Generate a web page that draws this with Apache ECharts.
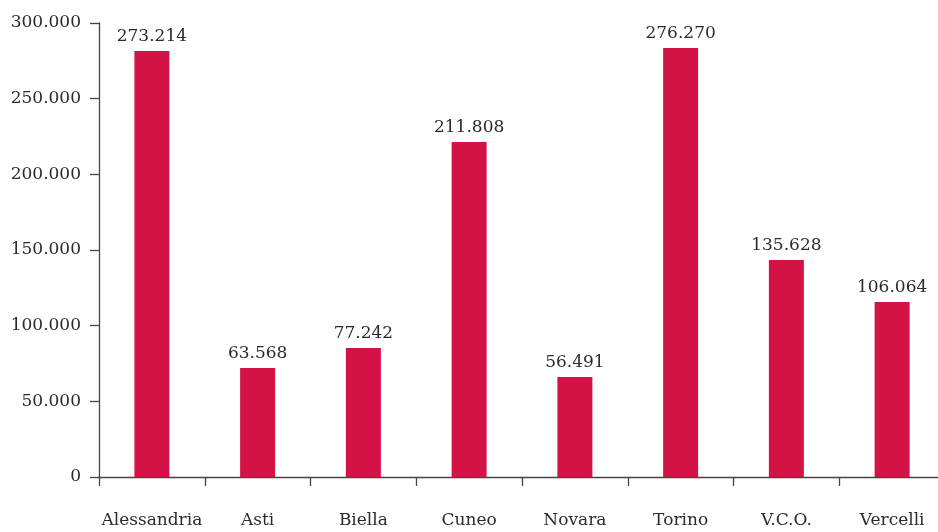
<!DOCTYPE html>
<html>
<head>
<meta charset="utf-8">
<script src="https://cdn.jsdelivr.net/npm/echarts@6/dist/echarts.min.js"></script>
<style>
html,body{margin:0;padding:0;background:#fff;overflow:hidden;}
#chart{width:938px;height:532px;}
</style>
</head>
<body>
<div id="chart"></div>
<script>
var categories = ["Alessandria", "Asti", "Biella", "Cuneo", "Novara", "Torino", "V.C.O.", "Vercelli"];
// bar heights as drawn in the reference
var barValues = [281500, 72000, 85200, 221400, 66100, 283500, 143400, 115600];
// printed value labels
var labelValues = ["273.214", "63.568", "77.242", "211.808", "56.491", "276.270", "135.628", "106.064"];
var yTicks = [0, 50000, 100000, 150000, 200000, 250000, 300000];

function fmtThousands(v) {
  return String(v).replace(/\B(?=(\d{3})+(?!\d))/g, ".");
}

var chart = echarts.init(document.getElementById('chart'), null, {renderer: 'canvas'});
var textColor = '#2b2b2b';
var fontFam = '"DejaVu Serif", "Liberation Serif", serif';
chart.setOption({
  animation: false,
  backgroundColor: '#ffffff',
  grid: {left: 99, right: -7, top: 23, bottom: 55, containLabel: false, outerBoundsMode: 'none'},
  xAxis: {
    type: 'category',
    data: categories,
    axisLine: {show: true, lineStyle: {color: '#444', width: 1.3}},
    axisTick: {show: true, length: 9, lineStyle: {color: '#444', width: 1.3}},
    axisLabel: {color: textColor, fontFamily: fontFam, fontSize: 17, margin: 35, interval: 0}
  },
  yAxis: {
    type: 'value',
    min: yTicks[0],
    max: yTicks[yTicks.length - 1],
    interval: yTicks[1] - yTicks[0],
    axisLine: {show: true, lineStyle: {color: '#444', width: 1.3}},
    axisTick: {show: true, length: 9, lineStyle: {color: '#444', width: 1.3}},
    splitLine: {show: false},
    axisLabel: {color: textColor, fontFamily: fontFam, fontSize: 17, margin: 18,
      formatter: function (v) { return fmtThousands(v); }}
  },
  series: [{
    type: 'bar',
    data: barValues,
    barWidth: 35,
    itemStyle: {color: '#D31245'},
    label: {
      show: true,
      position: 'top',
      distance: 6,
      color: textColor,
      fontFamily: fontFam,
      fontSize: 17,
      formatter: function (p) { return labelValues[p.dataIndex]; }
    }
  }]
});
</script>
</body>
</html>
